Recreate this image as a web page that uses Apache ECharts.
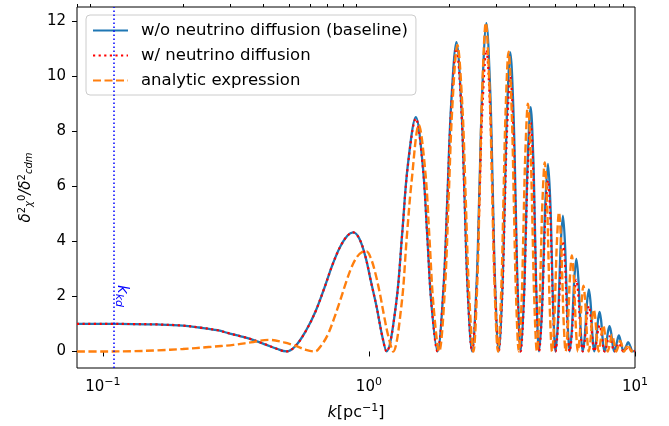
<!DOCTYPE html>
<html>
<head>
<meta charset="utf-8">
<script src="https://cdn.jsdelivr.net/npm/echarts@6/dist/echarts.min.js"></script>
<style>
  html, body { margin: 0; padding: 0; background: #fff; }
  #chart { width: 669px; height: 426px; }
</style>
</head>
<body>
<div id="chart"></div>
<script>
// k values [pc^-1] shared by the two numerical curves
const kBase = [
  0.08, 0.1, 0.13, 0.16, 0.2, 0.23, 0.27, 0.30, 0.33, 0.36, 0.41, 0.45, 0.49,
  0.53, 0.58, 0.63, 0.68, 0.73, 0.78, 0.83, 0.873, 0.92, 0.97, 1.02, 1.07, 1.12, 1.165,
  1.266, 1.333, 1.400, 1.501, 1.594, 1.656, 1.717, 1.81,
  1.907, 1.972, 2.036, 2.133, 2.226, 2.288, 2.349, 2.442,
  2.539, 2.603, 2.667, 2.764, 2.857, 2.919, 2.981, 3.074,
  3.172, 3.237, 3.302, 3.40, 3.496, 3.56, 3.624, 3.72,
  3.82, 3.888, 3.955, 4.055, 4.147, 4.208, 4.269, 4.36,
  4.465, 4.535, 4.605, 4.71, 4.806, 4.87, 4.934, 5.03,
  5.129, 5.195, 5.261, 5.36, 5.456, 5.52, 5.584, 5.68,
  5.782, 5.85, 5.918, 6.02, 6.122, 6.19, 6.258, 6.36,
  6.465, 6.535, 6.605, 6.71, 6.806, 6.87, 6.934, 7.03,
  7.129, 7.195, 7.261, 7.36, 7.456, 7.52, 7.584, 7.68,
  7.78, 7.85, 7.92, 8.02, 8.12, 8.19, 8.26, 8.36,
  8.53, 8.70, 8.875, 9.05, 9.24, 9.43, 9.615, 9.80, 10
];

// w/o neutrino diffusion (baseline)
const baseline = [
  1.0, 1.0, 0.995, 0.98, 0.94, 0.87, 0.77, 0.65, 0.55, 0.45, 0.25, 0.1, 0.0,
  0.2, 0.75, 1.45, 2.3, 3.15, 3.8, 4.2, 4.32, 4.1, 3.45, 2.5, 1.6, 0.6, 0,
  1.75, 4.25, 6.75, 8.50, 6.75, 4.25, 1.75, 0,
  2.31, 5.61, 8.91, 11.22, 8.91, 5.61, 2.31, 0,
  2.45, 5.96, 9.46, 11.91, 9.46, 5.96, 2.45, 0,
  2.24, 5.43, 8.61, 10.85, 8.61, 5.43, 2.24, 0,
  1.83, 4.44, 7.04, 8.87, 7.04, 4.44, 1.83, 0,
  1.40, 3.41, 5.41, 6.81, 5.41, 3.41, 1.40, 0,
  1.02, 2.47, 3.91, 4.93, 3.91, 2.47, 1.02, 0,
  0.69, 1.68, 2.67, 3.36, 2.67, 1.68, 0.69, 0,
  0.46, 1.13, 1.79, 2.25, 1.79, 1.13, 0.46, 0,
  0.30, 0.72, 1.14, 1.44, 1.14, 0.72, 0.30, 0,
  0.19, 0.46, 0.73, 0.92, 0.73, 0.46, 0.19, 0,
  0.29, 0.58, 0.29, 0, 0.17, 0.34, 0.17, 0, 0.04
];

// w/ neutrino diffusion
const diffusion = [
  1.0, 1.0, 0.995, 0.98, 0.94, 0.87, 0.77, 0.65, 0.55, 0.45, 0.25, 0.1, 0.0,
  0.2, 0.75, 1.45, 2.3, 3.15, 3.8, 4.2, 4.32, 4.1, 3.45, 2.5, 1.6, 0.6, 0,
  1.74, 4.23, 6.71, 8.45, 6.71, 4.23, 1.74, 0,
  2.27, 5.50, 8.73, 11.0, 8.73, 5.50, 2.27, 0,
  2.25, 5.47, 8.69, 10.94, 8.69, 5.47, 2.25, 0,
  2.05, 4.99, 7.92, 9.97, 7.92, 4.99, 2.05, 0,
  1.71, 4.15, 6.59, 8.3, 6.59, 4.15, 1.71, 0,
  1.28, 3.1, 4.92, 6.2, 4.92, 3.1, 1.28, 0,
  0.82, 2.0, 3.18, 4.0, 3.18, 2.0, 0.82, 0,
  0.54, 1.3, 2.06, 2.6, 2.06, 1.3, 0.54, 0,
  0.34, 0.83, 1.31, 1.65, 1.31, 0.83, 0.34, 0,
  0.2, 0.48, 0.75, 0.95, 0.75, 0.48, 0.2, 0,
  0.11, 0.28, 0.44, 0.55, 0.44, 0.28, 0.11, 0,
  0.15, 0.3, 0.15, 0, 0.08, 0.16, 0.08, 0, 0.02
];

// analytic expression
const kAnalytic = [
  0.08, 0.1, 0.13, 0.16, 0.2, 0.25, 0.31, 0.36, 0.42, 0.48, 0.535, 0.58, 0.627,
  0.66, 0.70, 0.74, 0.78, 0.82, 0.86, 0.90, 0.94, 0.98, 1.02, 1.06, 1.10, 1.14, 1.18, 1.234,
  1.326, 1.387, 1.448, 1.540, 1.629, 1.689, 1.748, 1.837,
  1.931, 1.994, 2.057, 2.151, 2.247, 2.311, 2.375, 2.47,
  2.554, 2.61, 2.666, 2.75, 2.842, 2.903, 2.964, 3.056,
  3.144, 3.203, 3.262, 3.35, 3.443, 3.505, 3.567, 3.66,
  3.75, 3.81, 3.87, 3.96, 4.056, 4.12, 4.184, 4.28,
  4.37, 4.43, 4.49, 4.58, 4.67, 4.73, 4.79, 4.88,
  4.97, 5.03, 5.09, 5.18, 5.273, 5.335, 5.397, 5.49,
  5.58, 5.64, 5.70, 5.79, 5.883, 5.945, 6.007, 6.10,
  6.19, 6.25, 6.31, 6.40, 6.49, 6.55, 6.61, 6.70,
  6.79, 6.85, 6.91, 7.0, 7.09, 7.15, 7.21, 7.3,
  7.45, 7.6, 7.75, 7.9, 8.05, 8.2, 8.35, 8.5,
  8.65, 8.8, 8.95, 9.1, 9.25, 9.4, 9.55, 9.7, 9.85, 10
];
const analytic = [
  0, 0, 0.01, 0.04, 0.09, 0.16, 0.24, 0.33, 0.42, 0.33, 0.19, 0.06, 0,
  0.2, 0.6, 1.2, 1.85, 2.5, 3.05, 3.42, 3.6, 3.63, 3.35, 2.8, 2.1, 1.3, 0.6, 0,
  1.69, 4.11, 6.2, 8.22, 6.53, 4.11, 1.69, 0,
  2.29, 5.56, 8.83, 11.12, 8.83, 5.56, 2.29, 0,
  2.46, 5.97, 9.47, 11.93, 9.47, 5.97, 2.46, 0,
  2.24, 5.44, 8.64, 10.88, 8.64, 5.44, 2.24, 0,
  1.85, 4.50, 7.14, 8.99, 7.14, 4.50, 1.85, 0,
  1.41, 3.43, 5.45, 6.86, 5.45, 3.43, 1.41, 0,
  1.04, 2.53, 4.01, 5.05, 4.01, 2.53, 1.04, 0,
  0.72, 1.74, 2.76, 3.48, 2.76, 1.74, 0.72, 0,
  0.49, 1.20, 1.90, 2.39, 1.90, 1.20, 0.49, 0,
  0.31, 0.76, 1.21, 1.52, 1.21, 0.76, 0.31, 0,
  0.48, 0.95, 0.48, 0, 0.3, 0.6, 0.3, 0,
  0.19, 0.38, 0.19, 0, 0.12, 0.25, 0.12, 0, 0.09, 0.18
];

const kKd = 0.109;               // free-streaming / damping scale marker
const xMajorTicks = [0.1, 1, 10];
const xMinorTicks = [0.08, 0.09, 0.2, 0.3, 0.4, 0.5, 0.6, 0.7, 0.8, 0.9,
                     2, 3, 4, 5, 6, 7, 8, 9];
const yTicks = [0, 2, 4, 6, 8, 10, 12];
const names = ['w/o neutrino diffusion (baseline)', 'w/ neutrino diffusion', 'analytic expression'];

const FONT = 'DejaVu Sans';

const chart = echarts.init(document.getElementById('chart'));

function pairs(xs, ys) {
    return xs.map((x, i) => [x, ys[i]]);
}

function powerLabel(v) {
    const e = Math.round(Math.log10(v));
    return '10{sup|' + (e < 0 ? '\u2212' : '') + Math.abs(e) + '}';
}

const option = {
    animation: false,
    backgroundColor: '#fff',
    grid: {
        left: 77, right: 34, top: 7, bottom: 58,
        show: true, borderColor: '#000', borderWidth: 1
    },
    legend: {
        data: names,
        orient: 'vertical',
        left: 86,
        top: 15,
        itemWidth: 35,
        itemHeight: 14,
        itemGap: 8,
        padding: [7, 8, 6, 6],
        backgroundColor: 'rgba(255,255,255,0.8)',
        borderColor: '#cccccc',
        borderWidth: 1,
        borderRadius: 4,
        // line series draw a marker in the legend icon by default; hide it
        itemStyle: { opacity: 0, borderWidth: 0 },
        textStyle: { fontFamily: FONT, fontSize: 16.5, color: '#000', padding: [0, 0, 0, 8] }
    },
    xAxis: [{
        type: 'log',
        logBase: 10,
        min: 0.08,
        max: 10,
        axisLine: { show: false },
        splitLine: { show: false },
        axisTick: { customValues: xMajorTicks, length: 5, lineStyle: { color: '#000', width: 1 } },
        axisLabel: {
            customValues: xMajorTicks,
            margin: 9,
            formatter: powerLabel,
            fontFamily: FONT, fontSize: 15, color: '#000',
            rich: {
                sup: { fontFamily: FONT, fontSize: 11, color: '#000', padding: [0, 0, 9, 0] }
            }
        },
        name: '{i|k}[pc{sup|\u22121}]',
        nameLocation: 'middle',
        nameGap: 35,
        nameTextStyle: {
            fontFamily: FONT, fontSize: 16, color: '#000',
            rich: {
                i: { fontFamily: FONT, fontSize: 16, fontStyle: 'italic', color: '#000' },
                sup: { fontFamily: FONT, fontSize: 11, color: '#000', padding: [0, 0, 9, 0] }
            }
        }
    }, {
        // minor ticks of the log axis
        type: 'log',
        logBase: 10,
        min: 0.08,
        max: 10,
        axisLine: { show: false },
        splitLine: { show: false },
        axisTick: { customValues: xMinorTicks, length: 3, lineStyle: { color: '#000', width: 1 } },
        axisLabel: { show: false }
    }],
    yAxis: {
        type: 'value',
        min: -0.6,
        max: 12.5,
        axisLine: { show: false },
        splitLine: { show: false },
        axisTick: { customValues: yTicks, length: 5, lineStyle: { color: '#000', width: 1 } },
        axisLabel: { customValues: yTicks, margin: 11, fontFamily: FONT, fontSize: 15, color: '#000' },
        name: '{d|\u03b4}{sp|2}{sb|\u03c7}{sp|0}{d|/\u03b4}{sp|2}{sb|cdm}',
        nameLocation: 'middle',
        nameRotate: 90,
        nameGap: 42,
        nameTextStyle: {
            rich: {
                d: { fontFamily: FONT, fontSize: 15, fontStyle: 'italic', color: '#000' },
                sp: { fontFamily: FONT, fontSize: 10, color: '#000', padding: [0, 0, 8, 0] },
                sb: { fontFamily: FONT, fontSize: 10, fontStyle: 'italic', color: '#000', padding: [7, 0, 0, 0] }
            }
        }
    },
    series: [{
        name: names[0],
        type: 'line',
        data: pairs(kBase, baseline),
        showSymbol: false,
        symbol: 'none',
        smooth: 0.35,
        z: 2,
        lineStyle: { color: '#1f77b4', width: 2.3 },
        itemStyle: { color: '#1f77b4' },
        markLine: {
            silent: true,
            symbol: ['none', 'none'],
            label: { show: false },
            lineStyle: { color: '#0000ff', type: [1.5, 2.5], width: 1.5 },
            data: [{ xAxis: kKd }]
        },
        markPoint: {
            silent: true,
            symbol: 'circle',
            symbolSize: 0,
            itemStyle: { color: 'transparent' },
            label: {
                show: true,
                position: 'inside',
                rotate: -90,
                offset: [1, -9],
                formatter: '{k|k}{s|kd}',
                rich: {
                    k: { fontFamily: FONT, fontSize: 15, fontStyle: 'italic', color: '#0000ff' },
                    s: { fontFamily: FONT, fontSize: 11, fontStyle: 'italic', color: '#0000ff', padding: [6, 0, 0, 0] }
                }
            },
            data: [{ coord: [kKd, 2.05] }]
        }
    }, {
        name: names[1],
        type: 'line',
        data: pairs(kBase, diffusion),
        showSymbol: false,
        symbol: 'none',
        smooth: 0.35,
        z: 3,
        lineStyle: { color: '#ff0000', width: 2.2, type: [2.2, 3.4] },
        itemStyle: { color: '#ff0000' }
    }, {
        name: names[2],
        type: 'line',
        data: pairs(kAnalytic, analytic),
        showSymbol: false,
        symbol: 'none',
        smooth: 0.35,
        z: 4,
        lineStyle: { color: '#ff7f0e', width: 2.4, type: [8, 3.5] },
        itemStyle: { color: '#ff7f0e' }
    }]
};

chart.setOption(option);
</script>
</body>
</html>
